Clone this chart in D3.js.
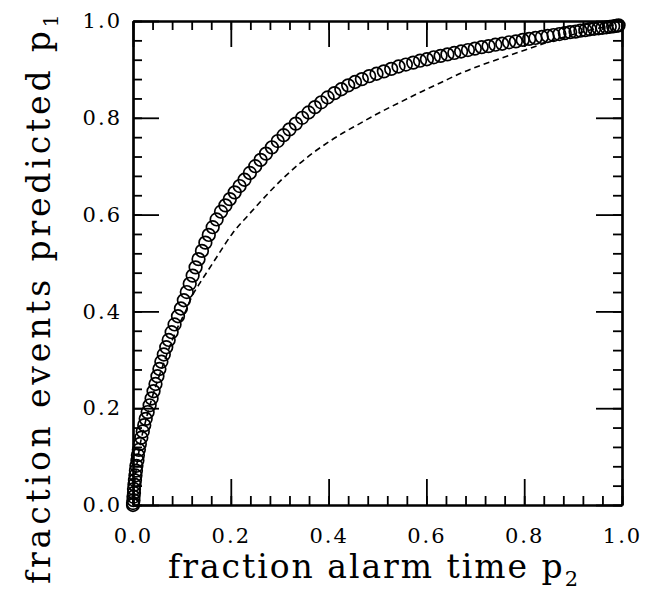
<!DOCTYPE html>
<html>
<head>
<meta charset="utf-8">
<script src="https://cdn.jsdelivr.net/npm/d3@7"></script>
<style>
  html, body { margin: 0; padding: 0; background: #fff; }
  svg { display: block; }
  .tick text { font-family: "DejaVu Serif", serif; font-size: 21px; fill: #000; }
  .title { font-family: "DejaVu Serif", serif; font-size: 33px; fill: #000; }
</style>
</head>
<body>
<svg id="chart" width="652" height="595"></svg>
<script>
// Fraction of events predicted (p1) against fraction of alarm time (p2)
const alarmTime = [
  0.000, 0.000, 0.001, 0.001, 0.002, 0.002, 0.003, 0.004, 0.005, 0.006, 0.007, 0.009, 0.010,
  0.012, 0.014, 0.017, 0.020, 0.023, 0.026, 0.030, 0.034, 0.038, 0.042, 0.046, 0.050, 0.054,
  0.058, 0.063, 0.068, 0.073, 0.079, 0.085, 0.092,
  0.098, 0.104, 0.110, 0.116, 0.122, 0.128, 0.134, 0.141, 0.148, 0.155, 0.163, 0.171,
  0.180, 0.189, 0.198, 0.208, 0.218, 0.228, 0.239, 0.250, 0.261, 0.272, 0.284, 0.296, 0.308,
  0.320, 0.333, 0.346, 0.359, 0.372, 0.385, 0.398, 0.412, 0.426, 0.440, 0.454, 0.468, 0.483,
  0.498, 0.513, 0.528, 0.543, 0.558, 0.573,
  0.587, 0.601, 0.615, 0.629, 0.643, 0.657, 0.671, 0.685, 0.699, 0.713, 0.727, 0.741, 0.755,
  0.769, 0.783, 0.797, 0.810, 0.823, 0.836, 0.848, 0.860, 0.872, 0.883, 0.894, 0.905, 0.915,
  0.925, 0.934, 0.943, 0.952, 0.960, 0.968, 0.975, 0.982, 0.988, 0.993
];
const eventsPredicted = [
  0.000, 0.004, 0.010, 0.017, 0.025, 0.033, 0.042, 0.051, 0.061, 0.071, 0.081, 0.092, 0.103,
  0.114, 0.126, 0.139, 0.152, 0.165, 0.178, 0.192, 0.206, 0.220, 0.235, 0.250, 0.266, 0.281,
  0.296, 0.311, 0.326, 0.341, 0.357, 0.373, 0.390,
  0.406, 0.423, 0.440, 0.457, 0.474, 0.491, 0.508, 0.525, 0.542, 0.558, 0.574, 0.590,
  0.606, 0.619, 0.632, 0.646, 0.659, 0.672, 0.686, 0.700, 0.713, 0.726, 0.739, 0.752, 0.764,
  0.776, 0.788, 0.800, 0.811, 0.822, 0.832, 0.842, 0.851, 0.859, 0.867, 0.874, 0.880, 0.886,
  0.891, 0.896, 0.901, 0.906, 0.910, 0.914,
  0.918, 0.921, 0.925, 0.928, 0.931, 0.934, 0.937, 0.940, 0.943, 0.946, 0.948, 0.951, 0.953,
  0.956, 0.958, 0.961, 0.963, 0.965, 0.967, 0.969, 0.971, 0.973, 0.975, 0.977, 0.978, 0.980,
  0.981, 0.983, 0.984, 0.985, 0.986, 0.987, 0.988, 0.989, 0.990, 0.991
];

// Reference curve drawn dashed
const refAlarmTime = [
  0.000, 0.004, 0.012, 0.025, 0.040, 0.060, 0.080, 0.095, 0.106, 0.120, 0.137, 0.155, 0.171,
  0.204, 0.235, 0.260, 0.285, 0.310, 0.340, 0.370, 0.400, 0.430, 0.460, 0.490, 0.520,
  0.550, 0.590, 0.630, 0.670, 0.710, 0.750, 0.790, 0.830, 0.870, 0.910, 0.950, 0.990
];
const refEventsPredicted = [
  0.000, 0.050, 0.110, 0.170, 0.225, 0.285, 0.340, 0.375, 0.397, 0.430, 0.459, 0.487, 0.512,
  0.562, 0.598, 0.626, 0.653, 0.678, 0.705, 0.729, 0.750, 0.769, 0.786, 0.803, 0.819,
  0.834, 0.854, 0.873, 0.892, 0.908, 0.922, 0.936, 0.950, 0.963, 0.975, 0.985, 0.993
];

const majorTicks = [0.0, 0.2, 0.4, 0.6, 0.8, 1.0];
const minorTicks = d3.range(0, 26).map(i => +(i * 0.04).toFixed(2));
const tickLabels = ["0.0", "0.2", "0.4", "0.6", "0.8", "1.0"];

const svg = d3.select("#chart");
const x = d3.scaleLinear().domain([0, 1]).range([133, 622]);
const y = d3.scaleLinear().domain([0, 1]).range([505, 21]);

const fmt = d => tickLabels[majorTicks.indexOf(d)];
const MAJOR = 26, MINOR = 9;

function styleAxis(g) {
  g.selectAll("path.domain").attr("stroke", "#000").attr("stroke-width", 2.2).attr("fill", "none");
  g.selectAll(".tick line").attr("stroke", "#000").attr("stroke-width", 1.8);
}

// bottom
svg.append("g").attr("transform", `translate(0,${y(0)})`)
  .call(d3.axisBottom(x).tickValues(minorTicks).tickFormat("").tickSizeInner(-MINOR).tickSizeOuter(0))
  .call(styleAxis);
const bottom = svg.append("g").attr("transform", `translate(0,${y(0)})`)
  .call(d3.axisBottom(x).tickValues(majorTicks).tickFormat(fmt).tickSizeInner(-MAJOR).tickSizeOuter(0))
  .call(styleAxis);
bottom.selectAll(".tick text").attr("y", 38).attr("dy", 0).attr("letter-spacing", 2);

// top
svg.append("g").attr("transform", `translate(0,${y(1)})`)
  .call(d3.axisTop(x).tickValues(minorTicks).tickFormat("").tickSizeInner(-MINOR).tickSizeOuter(0))
  .call(styleAxis);
svg.append("g").attr("transform", `translate(0,${y(1)})`)
  .call(d3.axisTop(x).tickValues(majorTicks).tickFormat("").tickSizeInner(-MAJOR).tickSizeOuter(0))
  .call(styleAxis);

// left
svg.append("g").attr("transform", `translate(${x(0)},0)`)
  .call(d3.axisLeft(y).tickValues(minorTicks).tickFormat("").tickSizeInner(-MINOR).tickSizeOuter(0))
  .call(styleAxis);
const left = svg.append("g").attr("transform", `translate(${x(0)},0)`)
  .call(d3.axisLeft(y).tickValues(majorTicks).tickFormat(fmt).tickSizeInner(-MAJOR).tickSizeOuter(0).tickPadding(11))
  .call(styleAxis);
left.selectAll(".tick text").attr("letter-spacing", 2);

// right
svg.append("g").attr("transform", `translate(${x(1)},0)`)
  .call(d3.axisRight(y).tickValues(minorTicks).tickFormat("").tickSizeInner(-MINOR).tickSizeOuter(0))
  .call(styleAxis);
svg.append("g").attr("transform", `translate(${x(1)},0)`)
  .call(d3.axisRight(y).tickValues(majorTicks).tickFormat("").tickSizeInner(-MAJOR).tickSizeOuter(0))
  .call(styleAxis);

// dashed reference curve
const refPts = refAlarmTime.map((v, i) => [v, refEventsPredicted[i]]);
svg.append("path")
  .datum(refPts)
  .attr("fill", "none")
  .attr("stroke", "#000")
  .attr("stroke-width", 1.6)
  .attr("stroke-dasharray", "6,4")
  .attr("d", d3.line().x(d => x(d[0])).y(d => y(d[1])).curve(d3.curveMonotoneX));

// open circles
const pts = alarmTime.map((v, i) => [v, eventsPredicted[i]]);
svg.append("g").selectAll("circle")
  .data(pts)
  .join("circle")
  .attr("cx", d => x(d[0]))
  .attr("cy", d => y(d[1]))
  .attr("r", 6.3)
  .attr("fill", "none")
  .attr("stroke", "#000")
  .attr("stroke-width", 1.7);

// axis titles, stretched to span the plot the way the typeset labels do
const xt = svg.append("text").attr("class", "title")
  .attr("x", 168).attr("y", 578)
  .attr("textLength", 410).attr("lengthAdjust", "spacing");
xt.append("tspan").text("fraction alarm time p");
xt.append("tspan").attr("font-size", 21).attr("dy", 8).text("2");

const yt = svg.append("text").attr("class", "title")
  .attr("transform", "translate(50,584) rotate(-90)")
  .attr("textLength", 570).attr("lengthAdjust", "spacing");
yt.append("tspan").text("fraction events predicted p");
yt.append("tspan").attr("font-size", 21).attr("dy", 8).text("1");
</script>
</body>
</html>
